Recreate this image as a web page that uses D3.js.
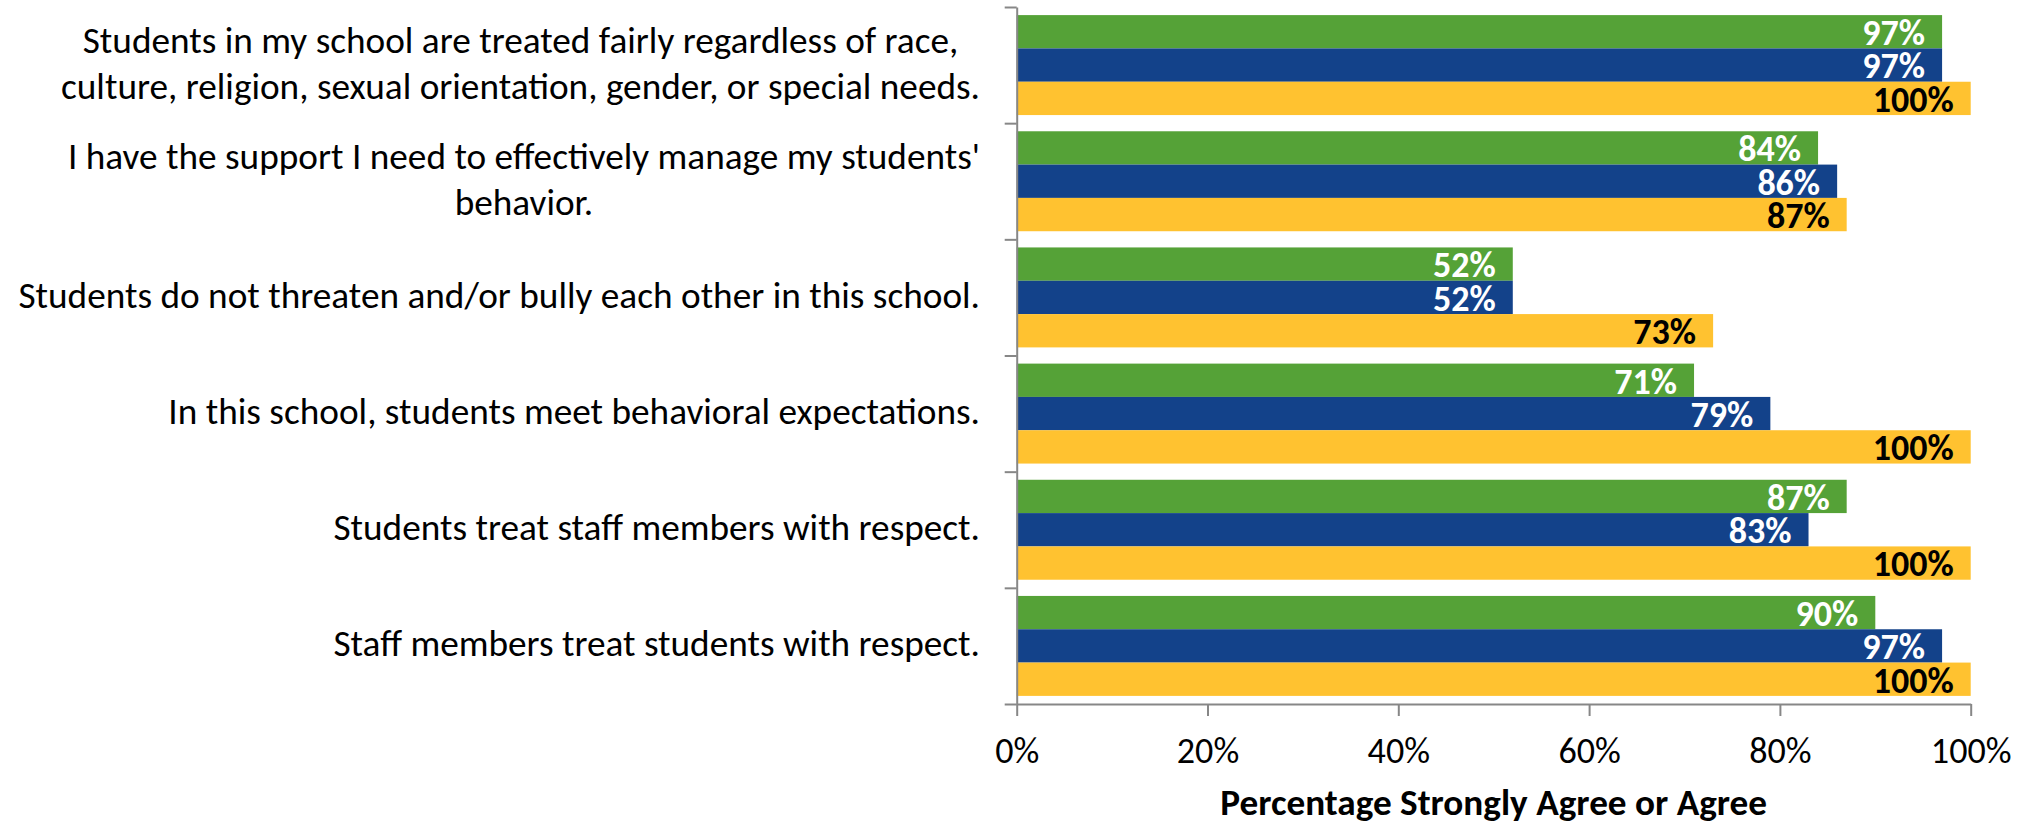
<!DOCTYPE html>
<html>
<head>
<meta charset="utf-8">
<script src="https://cdn.jsdelivr.net/npm/d3@7"></script>
<style>
  html, body { margin: 0; padding: 0; background: #ffffff; }
  svg { display: block; }
</style>
</head>
<body>
<svg id="chart" width="2030" height="825"></svg>
<script>
// ---------------- DATA ----------------
const categoryLines = [
  ["Students in my school are treated fairly regardless of race,",
   "culture, religion, sexual orientation, gender, or special needs."],
  ["I have the support I need to effectively manage my students'",
   "behavior."],
  ["Students do not threaten and/or bully each other in this school."],
  ["In this school, students meet behavioral expectations."],
  ["Students treat staff members with respect."],
  ["Staff members treat students with respect."]
];
const greenValues  = [97, 84, 52, 71, 87, 90];
const blueValues   = [97, 86, 52, 79, 83, 97];
const yellowValues = [100, 87, 73, 100, 100, 100];
const seriesColors = ["#55A237", "#13428A", "#FFC230"];
const labelColors  = ["#ffffff", "#ffffff", "#000000"];
const xTicks = [0, 20, 40, 60, 80, 100];
const xTitle = "Percentage Strongly Agree or Agree";

// ---------------- LAYOUT ----------------
const svg = d3.select("#chart");
const FONT = "Carlito, Calibri, Lato, 'Open Sans', sans-serif";
const series = [greenValues, blueValues, yellowValues];

const x = d3.scaleLinear().domain([0, 100]).range([1016.7, 1970.7]);
const y = d3.scaleBand().domain(d3.range(categoryLines.length))
  .range([7, 704]).paddingInner(0.1395).paddingOuter(0.06975);
const sub = d3.scaleBand().domain(d3.range(series.length)).range([0, y.bandwidth()]);
const yEdges = d3.scaleLinear().domain([0, categoryLines.length]).range([7, 704]);

// font fitting helper: size so that sample string reaches target width
function fitSize(sample, weight, target, base) {
  const t = svg.append("text").attr("font-family", FONT).attr("font-size", base)
    .attr("font-weight", weight).text(sample);
  const w = t.node().getComputedTextLength();
  t.remove();
  return Math.max(26, Math.min(40, base * target / w));
}
const catFs   = fitSize("Students do not threaten and/or bully each other in this school.", "normal", 962, 37);
const tickFs  = fitSize("100%", "normal", 80.7, 37);
const valFs   = fitSize("100%", "bold", 81, 37);
const titleFs = fitSize(xTitle, "bold", 547, 37);

// ---------------- BARS ----------------
const barG = svg.append("g");
series.forEach((vals, s) => {
  barG.selectAll(null).data(vals).enter().append("rect")
    .attr("x", x(0))
    .attr("y", (d, i) => y(i) + sub(s))
    .attr("width", d => x(d) - x(0))
    .attr("height", sub.bandwidth())
    .attr("fill", seriesColors[s]);
});

// value labels
series.forEach((vals, s) => {
  barG.selectAll(null).data(vals).enter().append("text")
    .attr("x", d => x(d) - 17)
    .attr("y", (d, i) => y(i) + sub(s) + sub.bandwidth() / 2)
    .attr("dy", "0.37em")
    .attr("text-anchor", "end")
    .attr("font-family", FONT)
    .attr("font-weight", "bold")
    .attr("font-size", valFs)
    .attr("fill", labelColors[s])
    .text(d => d + "%");
});

// ---------------- AXES ----------------
const axisColor = "#878787";
const xAxisG = svg.append("g").attr("transform", "translate(0,704)")
  .call(d3.axisBottom(x).tickValues(xTicks).tickFormat(d => d + "%").tickSize(12).tickSizeOuter(0));
xAxisG.select(".domain").attr("stroke", axisColor).attr("stroke-width", 2);
xAxisG.selectAll(".tick line").attr("stroke", axisColor).attr("stroke-width", 2);
xAxisG.selectAll(".tick text")
  .attr("y", 763 - 704).attr("dy", 0)
  .attr("font-family", FONT).attr("font-size", tickFs).attr("fill", "#000");

const yAxisG = svg.append("g").attr("transform", "translate(" + x(0) + ",0)")
  .call(d3.axisLeft(yEdges).tickValues(d3.range(categoryLines.length + 1)).tickFormat("").tickSize(12).tickSizeOuter(0));
yAxisG.select(".domain").attr("stroke", axisColor).attr("stroke-width", 2);
yAxisG.selectAll(".tick line").attr("stroke", axisColor).attr("stroke-width", 2);

// category labels
const labelRight = 980, lineGap = 46;
categoryLines.forEach((lines, i) => {
  const cy = y(i) + y.bandwidth() / 2;
  const g = svg.append("g");
  const texts = lines.map((ln, k) => g.append("text")
    .attr("font-family", FONT).attr("font-size", catFs).attr("fill", "#000")
    .attr("y", cy + 10.5 + (k - (lines.length - 1) / 2) * lineGap)
    .text(ln));
  const maxW = d3.max(texts, t => t.node().getComputedTextLength());
  texts.forEach(t => t.attr("x", labelRight - maxW / 2).attr("text-anchor", "middle"));
});

// axis title
svg.append("text")
  .attr("x", (x(0) + x(100)) / 2)
  .attr("y", 815)
  .attr("text-anchor", "middle")
  .attr("font-family", FONT).attr("font-weight", "bold").attr("font-size", titleFs)
  .attr("fill", "#000")
  .text(xTitle);
</script>
</body>
</html>
